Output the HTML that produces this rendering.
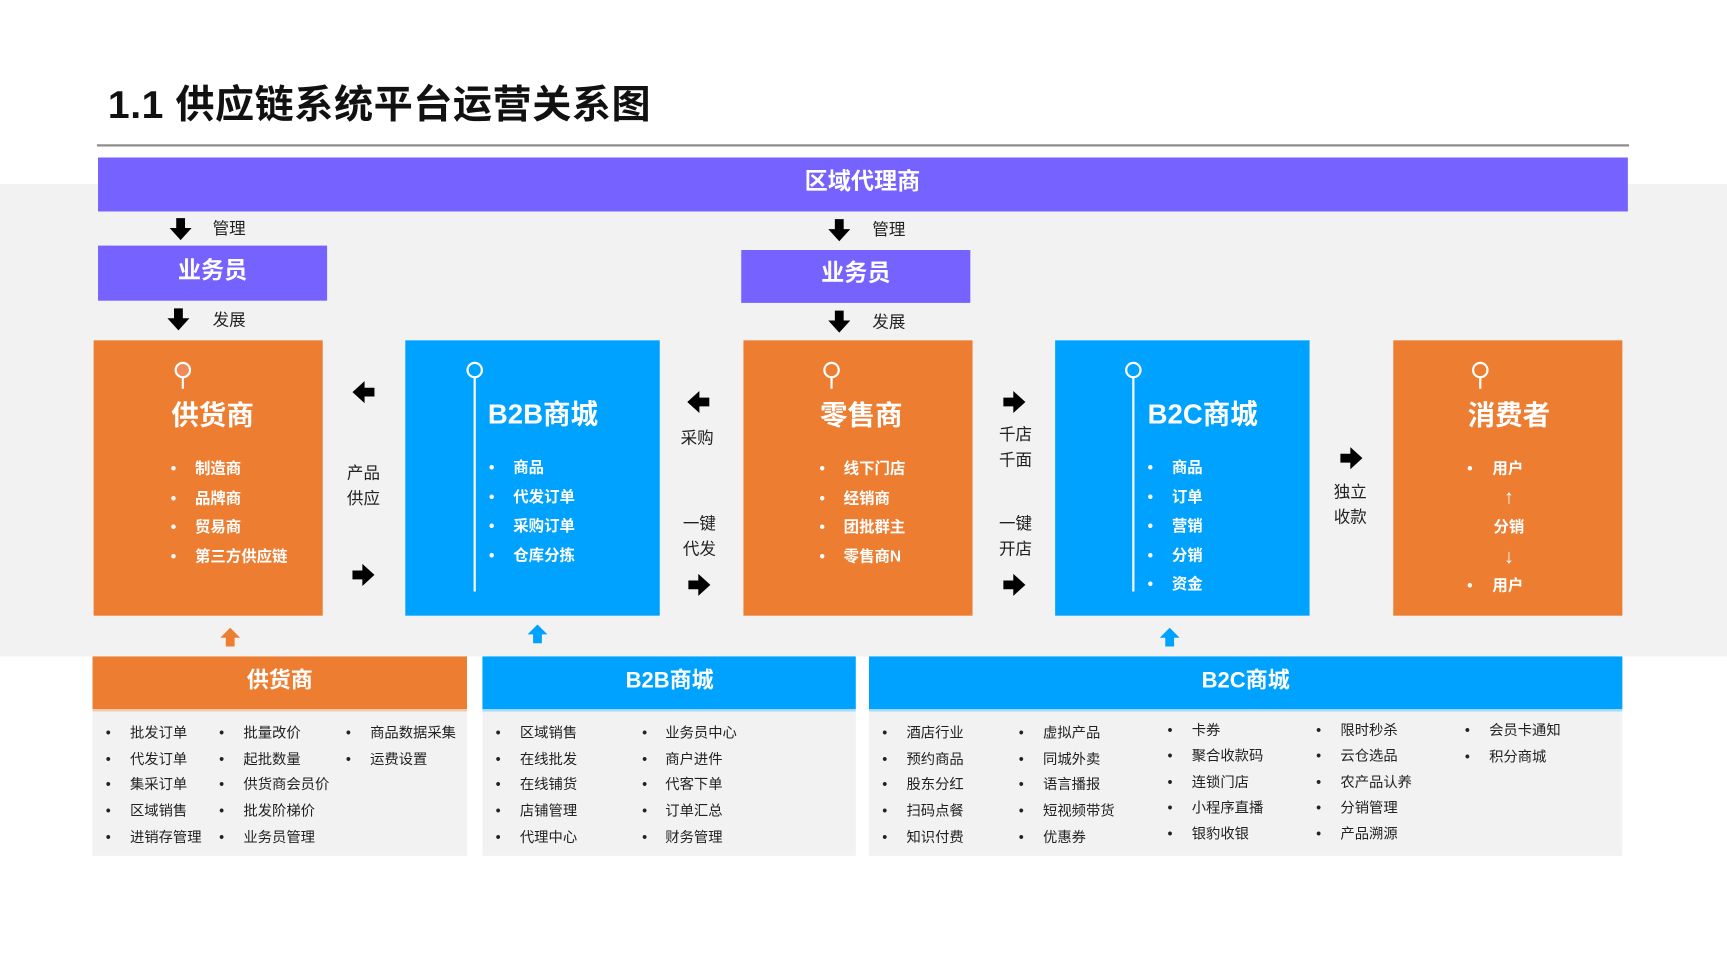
<!DOCTYPE html>
<html><head><meta charset="utf-8"><style>
*{margin:0;padding:0;box-sizing:border-box}
body{width:1727px;height:967px;overflow:hidden;background:#fff;font-family:"Liberation Sans","Noto Sans CJK SC",sans-serif}
#w{position:absolute;left:0;top:0;width:1568px;height:878px;transform:scale(1.10140);transform-origin:0 0}
.a{position:absolute}
.t{position:absolute;white-space:nowrap;transform:translate(-50%,-50%);line-height:1}
.l{position:absolute;white-space:nowrap;transform:translateY(-50%);line-height:1}
.or{background:#ed7d31}.bl{background:#00a2ff}.pu{background:#7562ff}
.wt{color:#fff;font-weight:bold}
.s13{font-size:13px;color:#222}
.b14{font-size:14px;color:#fff;font-weight:bold}
.k{font-size:15px;color:#222}
</style></head><body><div id="w">
<div class="l" style="left:98px;top:96px;font-size:35.5px;letter-spacing:0.5px;font-weight:bold;color:#111">1.1 供应链系统平台运营关系图</div>
<div class="a" style="left:88px;top:131px;width:1391px;height:2px;background:#8c8c8c"></div>
<div class="a" style="left:0;top:167px;width:1568px;height:429px;background:#f2f2f2"></div>
<div class="a pu" style="left:89px;top:143px;width:1389px;height:49px"></div>
<div class="t wt" style="left:783px;top:165px;font-size:21px">区域代理商</div>

<svg class="a" style="left:0;top:0" width="1568" height="878">
<defs>
<polygon id="ad" points="-4,-10 4,-10 4,-1 10,-1 0,10 -10,-1 -4,-1" fill="#000"/>
<polygon id="ar" points="-10,-4 -1,-4 -1,-10 10,0 -1,10 -1,4 -10,4" fill="#000"/>
<polygon id="al" points="10,-4 1,-4 1,-10 -10,0 1,10 1,4 10,4" fill="#000"/>
</defs>
<use href="#ad" x="164" y="208"/><use href="#ad" x="762" y="209"/>
<use href="#ad" x="162" y="290"/><use href="#ad" x="762" y="292"/>
<use href="#al" x="330" y="356"/><use href="#ar" x="330" y="522"/>
<use href="#al" x="634" y="365"/><use href="#ar" x="635" y="531"/>
<use href="#ar" x="921" y="365"/><use href="#ar" x="921" y="531"/>
<use href="#ar" x="1227" y="416"/>
<polygon points="209,570 218,579 213,579 213,587 205,587 205,579 200,579" fill="#ed7d31"/>
<polygon points="488,567 497,576 492,576 492,584 484,584 484,576 479,576" fill="#00a2ff"/>
<polygon points="1062,570 1071,579 1066,579 1066,587 1058,587 1058,579 1053,579" fill="#00a2ff"/>
</svg>
<div class="l k" style="left:193px;top:208px">管理</div>
<div class="l k" style="left:792px;top:209px">管理</div>
<div class="l k" style="left:193px;top:291px">发展</div>
<div class="l k" style="left:792px;top:293px">发展</div>
<div class="a pu" style="left:89px;top:223px;width:208px;height:50px"></div>
<div class="t wt" style="left:193px;top:246px;font-size:21px">业务员</div>
<div class="a pu" style="left:673px;top:227px;width:208px;height:48px"></div>
<div class="t wt" style="left:777px;top:248px;font-size:21px">业务员</div>

<div class="a or" style="left:85px;top:309px;width:208px;height:250px"></div>
<div class="a bl" style="left:368px;top:309px;width:231px;height:250px"></div>
<div class="a or" style="left:675px;top:309px;width:208px;height:250px"></div>
<div class="a bl" style="left:958px;top:309px;width:231px;height:250px"></div>
<div class="a or" style="left:1265px;top:309px;width:208px;height:250px"></div>
<svg class="a" style="left:0;top:0" width="1568" height="878" fill="none" stroke="#fff" stroke-width="2">
<circle cx="166" cy="336" r="6.5" fill="#f08a5a"/><line x1="166" y1="343" x2="166" y2="353"/>
<circle cx="431" cy="336" r="6.5"/><line x1="431" y1="343" x2="431" y2="537"/>
<circle cx="755" cy="336" r="6.5"/><line x1="755" y1="343" x2="755" y2="353"/>
<circle cx="1029" cy="336" r="6.5"/><line x1="1029" y1="343" x2="1029" y2="537"/>
<circle cx="1344" cy="336" r="6.5"/><line x1="1344" y1="343" x2="1344" y2="353"/>
</svg>
<div class="t wt" style="left:193px;top:378px;font-size:25px">供货商</div>
<div class="l wt" style="left:443px;top:377px;font-size:25px">B2B商城</div>
<div class="t wt" style="left:782px;top:378px;font-size:25px">零售商</div>
<div class="l wt" style="left:1042px;top:377px;font-size:25px">B2C商城</div>
<div class="t wt" style="left:1370px;top:378px;font-size:25px">消费者</div>

<div class="b14">
<div class="l" style="left:155px;top:425px">•</div><div class="l" style="left:177px;top:425px">制造商</div>
<div class="l" style="left:155px;top:452px">•</div><div class="l" style="left:177px;top:452px">品牌商</div>
<div class="l" style="left:155px;top:478px">•</div><div class="l" style="left:177px;top:478px">贸易商</div>
<div class="l" style="left:155px;top:505px">•</div><div class="l" style="left:177px;top:505px">第三方供应链</div>

<div class="l" style="left:444px;top:424px">•</div><div class="l" style="left:466px;top:424px">商品</div>
<div class="l" style="left:444px;top:451px">•</div><div class="l" style="left:466px;top:451px">代发订单</div>
<div class="l" style="left:444px;top:477px">•</div><div class="l" style="left:466px;top:477px">采购订单</div>
<div class="l" style="left:444px;top:504px">•</div><div class="l" style="left:466px;top:504px">仓库分拣</div>

<div class="l" style="left:744px;top:425px">•</div><div class="l" style="left:766px;top:425px">线下门店</div>
<div class="l" style="left:744px;top:452px">•</div><div class="l" style="left:766px;top:452px">经销商</div>
<div class="l" style="left:744px;top:478px">•</div><div class="l" style="left:766px;top:478px">团批群主</div>
<div class="l" style="left:744px;top:505px">•</div><div class="l" style="left:766px;top:505px">零售商N</div>

<div class="l" style="left:1042px;top:424px">•</div><div class="l" style="left:1064px;top:424px">商品</div>
<div class="l" style="left:1042px;top:451px">•</div><div class="l" style="left:1064px;top:451px">订单</div>
<div class="l" style="left:1042px;top:477px">•</div><div class="l" style="left:1064px;top:477px">营销</div>
<div class="l" style="left:1042px;top:504px">•</div><div class="l" style="left:1064px;top:504px">分销</div>
<div class="l" style="left:1042px;top:530px">•</div><div class="l" style="left:1064px;top:530px">资金</div>

<div class="l" style="left:1332px;top:425px">•</div><div class="l" style="left:1355px;top:425px">用户</div>
<div class="t" style="left:1370px;top:451px;font-size:18px;font-weight:normal">↑</div>
<div class="t" style="left:1370px;top:478px">分销</div>
<div class="t" style="left:1370px;top:505px;font-size:18px;font-weight:normal">↓</div>
<div class="l" style="left:1332px;top:531px">•</div><div class="l" style="left:1355px;top:531px">用户</div>
</div>

<div class="k">
<div class="t" style="left:330px;top:430px">产品</div><div class="t" style="left:330px;top:453px">供应</div>
<div class="t" style="left:633px;top:398px">采购</div>
<div class="t" style="left:635px;top:476px">一键</div><div class="t" style="left:635px;top:499px">代发</div>
<div class="t" style="left:922px;top:395px">千店</div><div class="t" style="left:922px;top:418px">千面</div>
<div class="t" style="left:922px;top:476px">一键</div><div class="t" style="left:922px;top:499px">开店</div>
<div class="t" style="left:1226px;top:447px">独立</div><div class="t" style="left:1226px;top:470px">收款</div>
</div>

<div class="a or" style="left:84px;top:596px;width:340px;height:48px"></div>
<div class="a" style="left:84px;top:644px;width:340px;height:133px;background:#f2f2f2;border-top:2px solid #f5c9ae"></div>
<div class="t wt" style="left:254px;top:618px;font-size:20px">供货商</div>
<div class="a bl" style="left:438px;top:596px;width:339px;height:48px"></div>
<div class="a" style="left:438px;top:644px;width:339px;height:133px;background:#f2f2f2;border-top:2px solid #a8dbff"></div>
<div class="t wt" style="left:608px;top:618px;font-size:20px">B2B商城</div>
<div class="a bl" style="left:789px;top:596px;width:684px;height:48px"></div>
<div class="a" style="left:789px;top:644px;width:684px;height:133px;background:#f2f2f2;border-top:2px solid #a8dbff"></div>
<div class="t wt" style="left:1131px;top:618px;font-size:20px">B2C商城</div>

<div class="s13">
<div class="l" style="left:96px;top:665px">•</div><div class="l" style="left:118px;top:665px">批发订单</div>
<div class="l" style="left:96px;top:689px">•</div><div class="l" style="left:118px;top:689px">代发订单</div>
<div class="l" style="left:96px;top:712px">•</div><div class="l" style="left:118px;top:712px">集采订单</div>
<div class="l" style="left:96px;top:736px">•</div><div class="l" style="left:118px;top:736px">区域销售</div>
<div class="l" style="left:96px;top:760px">•</div><div class="l" style="left:118px;top:760px">进销存管理</div>
<div class="l" style="left:199px;top:665px">•</div><div class="l" style="left:221px;top:665px">批量改价</div>
<div class="l" style="left:199px;top:689px">•</div><div class="l" style="left:221px;top:689px">起批数量</div>
<div class="l" style="left:199px;top:712px">•</div><div class="l" style="left:221px;top:712px">供货商会员价</div>
<div class="l" style="left:199px;top:736px">•</div><div class="l" style="left:221px;top:736px">批发阶梯价</div>
<div class="l" style="left:199px;top:760px">•</div><div class="l" style="left:221px;top:760px">业务员管理</div>
<div class="l" style="left:314px;top:665px">•</div><div class="l" style="left:336px;top:665px">商品数据采集</div>
<div class="l" style="left:314px;top:689px">•</div><div class="l" style="left:336px;top:689px">运费设置</div>

<div class="l" style="left:450px;top:665px">•</div><div class="l" style="left:472px;top:665px">区域销售</div>
<div class="l" style="left:450px;top:689px">•</div><div class="l" style="left:472px;top:689px">在线批发</div>
<div class="l" style="left:450px;top:712px">•</div><div class="l" style="left:472px;top:712px">在线铺货</div>
<div class="l" style="left:450px;top:736px">•</div><div class="l" style="left:472px;top:736px">店铺管理</div>
<div class="l" style="left:450px;top:760px">•</div><div class="l" style="left:472px;top:760px">代理中心</div>
<div class="l" style="left:583px;top:665px">•</div><div class="l" style="left:604px;top:665px">业务员中心</div>
<div class="l" style="left:583px;top:689px">•</div><div class="l" style="left:604px;top:689px">商户进件</div>
<div class="l" style="left:583px;top:712px">•</div><div class="l" style="left:604px;top:712px">代客下单</div>
<div class="l" style="left:583px;top:736px">•</div><div class="l" style="left:604px;top:736px">订单汇总</div>
<div class="l" style="left:583px;top:760px">•</div><div class="l" style="left:604px;top:760px">财务管理</div>

<div class="l" style="left:801px;top:665px">•</div><div class="l" style="left:823px;top:665px">酒店行业</div>
<div class="l" style="left:801px;top:689px">•</div><div class="l" style="left:823px;top:689px">预约商品</div>
<div class="l" style="left:801px;top:712px">•</div><div class="l" style="left:823px;top:712px">股东分红</div>
<div class="l" style="left:801px;top:736px">•</div><div class="l" style="left:823px;top:736px">扫码点餐</div>
<div class="l" style="left:801px;top:760px">•</div><div class="l" style="left:823px;top:760px">知识付费</div>
<div class="l" style="left:925px;top:665px">•</div><div class="l" style="left:947px;top:665px">虚拟产品</div>
<div class="l" style="left:925px;top:689px">•</div><div class="l" style="left:947px;top:689px">同城外卖</div>
<div class="l" style="left:925px;top:712px">•</div><div class="l" style="left:947px;top:712px">语言播报</div>
<div class="l" style="left:925px;top:736px">•</div><div class="l" style="left:947px;top:736px">短视频带货</div>
<div class="l" style="left:925px;top:760px">•</div><div class="l" style="left:947px;top:760px">优惠券</div>
<div class="l" style="left:1060px;top:663px">•</div><div class="l" style="left:1082px;top:663px">卡券</div>
<div class="l" style="left:1060px;top:686px">•</div><div class="l" style="left:1082px;top:686px">聚合收款码</div>
<div class="l" style="left:1060px;top:710px">•</div><div class="l" style="left:1082px;top:710px">连锁门店</div>
<div class="l" style="left:1060px;top:733px">•</div><div class="l" style="left:1082px;top:733px">小程序直播</div>
<div class="l" style="left:1060px;top:757px">•</div><div class="l" style="left:1082px;top:757px">银豹收银</div>
<div class="l" style="left:1195px;top:663px">•</div><div class="l" style="left:1217px;top:663px">限时秒杀</div>
<div class="l" style="left:1195px;top:686px">•</div><div class="l" style="left:1217px;top:686px">云仓选品</div>
<div class="l" style="left:1195px;top:710px">•</div><div class="l" style="left:1217px;top:710px">农产品认养</div>
<div class="l" style="left:1195px;top:733px">•</div><div class="l" style="left:1217px;top:733px">分销管理</div>
<div class="l" style="left:1195px;top:757px">•</div><div class="l" style="left:1217px;top:757px">产品溯源</div>
<div class="l" style="left:1330px;top:663px">•</div><div class="l" style="left:1352px;top:663px">会员卡通知</div>
<div class="l" style="left:1330px;top:687px">•</div><div class="l" style="left:1352px;top:687px">积分商城</div>
</div>
</div></body></html>
